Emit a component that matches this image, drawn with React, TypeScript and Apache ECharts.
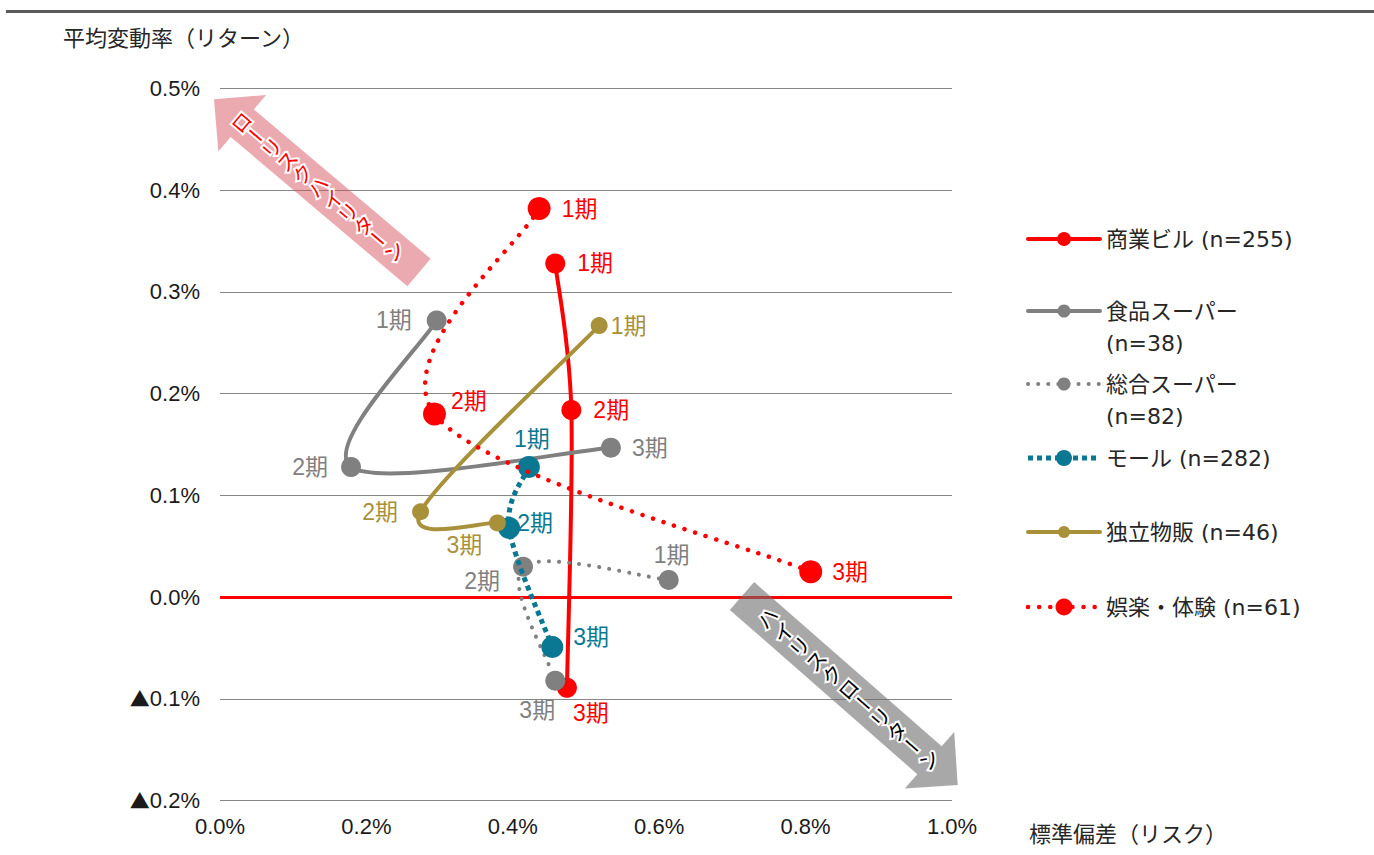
import { useEffect, useRef } from 'react';
import * as echarts from 'echarts';

// Period labels shown next to each point
const periods = ['1期', '2期', '3期'];

// Series names (legend texts, with line breaks where the legend wraps)
const seriesNames = [
  '商業ビル (n=255)',
  '食品スーパー (n=38)',
  '総合スーパー (n=82)',
  'モール (n=282)',
  '独立物販 (n=46)',
  '娯楽・体験 (n=61)',
];
const legendLabels = [
  '商業ビル (n=255)',
  '食品スーパー\n(n=38)',
  '総合スーパー\n(n=82)',
  'モール (n=282)',
  '独立物販 (n=46)',
  '娯楽・体験 (n=61)',
];

// Standard deviation (risk, %) for periods 1–3
const shogyoRisk = [0.458, 0.48, 0.474];
const shokuhinRisk = [0.296, 0.179, 0.534];
const sogoRisk = [0.613, 0.414, 0.458];
const mallRisk = [0.422, 0.395, 0.454];
const dokuritsuRisk = [0.518, 0.274, 0.379];
const gorakuRisk = [0.436, 0.293, 0.807];

// Average rate of change (return, %) for periods 1–3
const shogyoReturn = [0.328, 0.184, -0.089];
const shokuhinReturn = [0.272, 0.128, 0.147];
const sogoReturn = [0.017, 0.03, -0.082];
const mallReturn = [0.128, 0.068, -0.049];
const dokuritsuReturn = [0.267, 0.084, 0.073];
const gorakuReturn = [0.382, 0.18, 0.025];

const riskSets = [shogyoRisk, shokuhinRisk, sogoRisk, mallRisk, dokuritsuRisk, gorakuRisk];
const returnSets = [shogyoReturn, shokuhinReturn, sogoReturn, mallReturn, dokuritsuReturn, gorakuReturn];

// Axis ranges (%)
const xRange = { min: 0, max: 1.0, interval: 0.2 };
const yRange = { min: -0.2, max: 0.5, interval: 0.1 };

const FONT = '"Liberation Sans", Arial, "Noto Sans CJK JP", sans-serif';
const LEGEND_FONT = '"DejaVu Sans", "Noto Sans CJK JP", sans-serif';
const CJK_FONT = '"Noto Sans CJK JP", sans-serif';
const TICK_COLOR = '#1a1a1a';

type LineLook = {
  color: string;
  width: number;
  dash: number[] | null;
  cap: 'round' | 'butt';
  size: number;
  legendR: number;
};

const looks: LineLook[] = [
  { color: '#FF0000', width: 4, dash: null, cap: 'round', size: 20, legendR: 7 },
  { color: '#808080', width: 4, dash: null, cap: 'round', size: 20, legendR: 6.5 },
  { color: '#808080', width: 4, dash: [0.1, 10], cap: 'round', size: 20, legendR: 6.5 },
  { color: '#0A7892', width: 5, dash: [5, 4], cap: 'butt', size: 22, legendR: 8 },
  { color: '#A8913A', width: 4, dash: null, cap: 'round', size: 17, legendR: 6 },
  { color: '#FF0000', width: 4.5, dash: [0.1, 11], cap: 'round', size: 23, legendR: 8.5 },
];

type Place = { position: string; distance: number; offset?: [number, number] };

// Where each period label sits around its point
const labelPlaces: Place[][] = [
  [
    { position: 'right', distance: 12 },
    { position: 'right', distance: 12 },
    { position: 'bottom', distance: 4, offset: [24, 0] },
  ],
  [
    { position: 'left', distance: 15 },
    { position: 'left', distance: 13 },
    { position: 'right', distance: 11 },
  ],
  [
    { position: 'top', distance: 3, offset: [3, 0] },
    { position: 'left', distance: 13, offset: [0, 14] },
    { position: 'bottom', distance: 8, offset: [-18, 0] },
  ],
  [
    { position: 'top', distance: 5, offset: [3, 0] },
    { position: 'right', distance: -3, offset: [0, -5] },
    { position: 'right', distance: 10, offset: [0, -10] },
  ],
  [
    { position: 'right', distance: 3 },
    { position: 'left', distance: 14 },
    { position: 'bottom', distance: 2, offset: [-33, 0] },
  ],
  [
    { position: 'right', distance: 11 },
    { position: 'right', distance: 5, offset: [0, -13] },
    { position: 'right', distance: 10 },
  ],
];

// Legend rows (vertical centre of each first line)
const legendRowY = [239, 311, 384, 458, 532, 607];

const pct = (v: number) => {
  const a = Math.abs(v) < 1e-9 ? 0 : v;
  return a.toFixed(1) + '%';
};

// Negative returns are written with a leading ▲
const signedPct = (v: number) => {
  const a = Math.abs(v) < 1e-9 ? 0 : v;
  return a < 0 ? '{neg|▲}' + Math.abs(a).toFixed(1) + '%' : a.toFixed(1) + '%';
};

// Smoothed line through pixel points (cardinal spline, 1/6 tangent factor)
function smoothPath(pts: number[][]): string {
  let d = `M${pts[0][0]},${pts[0][1]}`;
  for (let k = 0; k < pts.length - 1; k++) {
    const p0 = pts[Math.max(k - 1, 0)];
    const p1 = pts[k];
    const p2 = pts[k + 1];
    const p3 = pts[Math.min(k + 2, pts.length - 1)];
    const c1x = p1[0] + (p2[0] - p0[0]) / 6;
    const c1y = p1[1] + (p2[1] - p0[1]) / 6;
    const c2x = p2[0] - (p3[0] - p1[0]) / 6;
    const c2y = p2[1] - (p3[1] - p1[1]) / 6;
    d += ` C${c1x},${c1y} ${c2x},${c2y} ${p2[0]},${p2[1]}`;
  }
  return d;
}

function arrowPolygon(
  from: [number, number],
  tip: [number, number],
  shaftW: number,
  headW: number,
  headL: number
): number[][] {
  const dx = tip[0] - from[0];
  const dy = tip[1] - from[1];
  const len = Math.hypot(dx, dy);
  const ux = dx / len;
  const uy = dy / len;
  const nx = -uy;
  const ny = ux;
  const bx = tip[0] - ux * headL;
  const by = tip[1] - uy * headL;
  const s = shaftW / 2;
  const h = headW / 2;
  return [
    [from[0] + nx * s, from[1] + ny * s],
    [bx + nx * s, by + ny * s],
    [bx + nx * h, by + ny * h],
    [tip[0], tip[1]],
    [bx - nx * h, by - ny * h],
    [bx - nx * s, by - ny * s],
    [from[0] - nx * s, from[1] - ny * s],
  ];
}

// Characters set one by one down the arrow, like vertical writing turned on its side
function arrowCaption(
  text: string,
  start: [number, number],
  end: [number, number],
  t0: number,
  step: number,
  color: string
) {
  const dx = end[0] - start[0];
  const dy = end[1] - start[1];
  const len = Math.hypot(dx, dy);
  const ux = dx / len;
  const uy = dy / len;
  const base = Math.PI / 2 - Math.atan2(uy, ux);
  return Array.from(text).map((ch, i) => {
    const t = t0 + i * step;
    return {
      type: 'text',
      x: start[0] + ux * t,
      y: start[1] + uy * t,
      rotation: ch === 'ー' ? base - Math.PI / 2 : base,
      z: 10,
      style: {
        text: ch,
        align: 'center',
        verticalAlign: 'middle',
        fontSize: 20,
        fontFamily: CJK_FONT,
        fill: color,
        stroke: '#ffffff',
        lineWidth: 4,
        strokeFirst: true,
      },
    };
  });
}

export default function App() {
  const ref = useRef<HTMLDivElement>(null);

  useEffect(() => {
    document.body.style.margin = '0';
    document.body.style.overflow = 'hidden';
    if (!ref.current) return;
    const chart = echarts.init(ref.current, null, { renderer: 'svg' });

    const series: any[] = [];
    seriesNames.forEach((name, i) => {
      const lk = looks[i];
      const pairs = periods.map((_, j) => [riskSets[i][j], returnSets[i][j]]);

      // smoothed connecting line
      series.push({
        name,
        type: 'custom',
        silent: true,
        z: 2 + 2 * i,
        data: pairs,
        encode: { x: 0, y: 1 },
        renderItem: (params: any, api: any) => {
          if (params.dataIndex !== 0) return null;
          const pts = pairs.map((p) => api.coord(p));
          return {
            type: 'path',
            shape: { pathData: smoothPath(pts) },
            style: {
              fill: 'none',
              stroke: lk.color,
              lineWidth: lk.width,
              lineDash: lk.dash,
              lineCap: lk.cap,
              lineJoin: 'round',
            },
          };
        },
      });

      // period markers with their labels
      const marker: any = {
        name,
        type: 'scatter',
        z: 3 + 2 * i,
        symbol: 'circle',
        symbolSize: lk.size,
        itemStyle: { color: lk.color, opacity: 1 },
        emphasis: { disabled: true },
        data: pairs.map((p, j) => {
          const pl = labelPlaces[i][j];
          return {
            value: p,
            label: {
              position: pl.position,
              distance: pl.distance,
              offset: pl.offset || [0, 0],
            },
          };
        }),
        label: {
          show: true,
          formatter: (p: any) => periods[p.dataIndex],
          color: lk.color,
          fontSize: 23,
          fontFamily: FONT,
        },
      };
      if (i === 0) {
        marker.markLine = {
          silent: true,
          symbol: 'none',
          label: { show: false },
          lineStyle: { color: '#FF0000', width: 3, type: 'solid' },
          data: [{ yAxis: 0 }],
          z: 1,
        };
      }
      series.push(marker);
    });

    const legendGraphics: any[] = [];
    seriesNames.forEach((_, i) => {
      const lk = looks[i];
      const y = legendRowY[i];
      legendGraphics.push({
        type: 'line',
        shape: { x1: 1028, y1: y, x2: 1100, y2: y },
        style: {
          stroke: lk.color,
          lineWidth: lk.width,
          lineDash: lk.dash,
          lineCap: lk.cap,
        },
      });
      legendGraphics.push({
        type: 'circle',
        shape: { cx: 1064, cy: y, r: lk.legendR },
        style: { fill: lk.color },
      });
      legendGraphics.push({
        type: 'text',
        x: 1106,
        y: y - 16,
        style: {
          text: legendLabels[i],
          fontSize: 22,
          lineHeight: 32,
          fontFamily: LEGEND_FONT,
          fill: '#262626',
          align: 'left',
          verticalAlign: 'top',
        },
      });
    });

    const pinkFrom: [number, number] = [419, 272.5];
    const pinkTip: [number, number] = [214, 99.3];
    const grayFrom: [number, number] = [742, 596];
    const grayTip: [number, number] = [957.7, 785];

    chart.setOption({
      animation: false,
      backgroundColor: '#ffffff',
      grid: { left: 220, right: 422, top: 88.5, bottom: 54.3 },
      xAxis: {
        type: 'value',
        min: xRange.min,
        max: xRange.max,
        interval: xRange.interval,
        axisLine: { show: false },
        axisTick: { show: false },
        splitLine: { show: false },
        axisLabel: {
          margin: 15,
          fontSize: 22,
          fontFamily: FONT,
          color: TICK_COLOR,
          formatter: pct,
        },
      },
      yAxis: {
        type: 'value',
        min: yRange.min,
        max: yRange.max,
        interval: yRange.interval,
        axisLine: { show: false },
        axisTick: { show: false },
        splitLine: { show: true, lineStyle: { color: '#868686', width: 1 } },
        axisLabel: {
          margin: 20,
          fontSize: 22,
          fontFamily: FONT,
          color: TICK_COLOR,
          formatter: signedPct,
          rich: {
            neg: { fontSize: 20, fontFamily: CJK_FONT, color: TICK_COLOR },
          },
        },
      },
      series,
      graphic: [
        {
          type: 'line',
          shape: { x1: 6, y1: 11.5, x2: 1374, y2: 11.5 },
          style: { stroke: '#5a5a5a', lineWidth: 3 },
        },
        {
          type: 'text',
          x: 63,
          y: 36,
          style: {
            text: '平均変動率（リターン）',
            fontSize: 22,
            fontFamily: CJK_FONT,
            fill: '#262626',
            align: 'left',
            verticalAlign: 'middle',
          },
        },
        {
          type: 'text',
          x: 1029,
          y: 832,
          style: {
            text: '標準偏差（リスク）',
            fontSize: 22,
            fontFamily: CJK_FONT,
            fill: '#262626',
            align: 'left',
            verticalAlign: 'middle',
          },
        },
        {
          type: 'polygon',
          z: 9,
          shape: { points: arrowPolygon(pinkFrom, pinkTip, 36, 74, 37) },
          style: { fill: 'rgba(214, 78, 88, 0.48)' },
        },
        ...arrowCaption('ローリスクハイリターン', pinkTip, pinkFrom, 35, 20, '#FF0000'),
        {
          type: 'polygon',
          z: 9,
          shape: { points: arrowPolygon(grayFrom, grayTip, 37, 75, 37.5) },
          style: { fill: 'rgba(110, 110, 110, 0.6)' },
        },
        ...arrowCaption('ハイリスクローリターン', grayFrom, grayTip, 33, 21.5, '#000000'),
        ...legendGraphics,
      ],
    });

    return () => chart.dispose();
  }, []);

  return <div ref={ref} style={{ width: 1374, height: 855 }} />;
}
